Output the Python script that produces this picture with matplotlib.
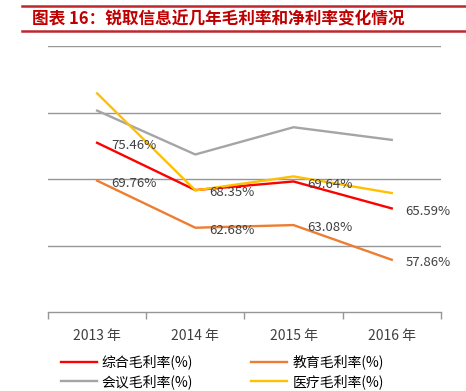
import matplotlib.pyplot as plt
from matplotlib.lines import Line2D

plt.rcParams['font.family'] = ['Noto Sans CJK SC', 'DejaVu Sans']

years = ['2013 年', '2014 年', '2015 年', '2016 年']
zonghe = [75.46, 68.35, 69.64, 65.59]
jiaoyu = [69.76, 62.68, 63.08, 57.86]
huiyi = [80.3, 73.7, 77.8, 75.9]
yiliao = [82.9, 68.3, 70.4, 67.9]

fig = plt.figure(figsize=(4.66, 3.91), dpi=100)
ax = fig.add_axes([0.103, 0.202, 0.843, 0.680])

x = range(len(years))
l1, = ax.plot(x, zonghe, color='#FF0000', lw=1.7, label='综合毛利率(%)')
l2, = ax.plot(x, jiaoyu, color='#ED7D31', lw=1.7, label='教育毛利率(%)')
l3, = ax.plot(x, huiyi, color='#A5A5A5', lw=1.7, label='会议毛利率(%)')
l4, = ax.plot(x, yiliao, color='#FFC000', lw=1.7, label='医疗毛利率(%)')

for series in (zonghe, jiaoyu):
    for i, v in enumerate(series):
        ax.annotate(f'{v:.2f}%', (i, v), xytext=(10, -2), textcoords='offset points',
                    ha='left', va='center', fontsize=9.5, color='#404040')

ax.set_xlim(-0.5, 3.5)
ax.set_ylim(50, 90)
for g in (60, 70, 80, 90):
    ax.axhline(g, color='#969696', lw=1.0, zorder=0)

for s in ('top', 'right', 'left'):
    ax.spines[s].set_visible(False)
ax.spines['bottom'].set_color('#969696')
ax.spines['bottom'].set_linewidth(1.0)
ax.set_yticks([])
ax.set_xticks([-0.5, 0.5, 1.5, 2.5, 3.5])
ax.set_xticklabels([])
ax.tick_params(axis='x', which='major', length=5, color='#969696', width=1.0)
ax.set_xticks(list(x), minor=True)
ax.set_xticklabels(years, minor=True, fontsize=10, color='#404040')
ax.tick_params(axis='x', which='minor', length=0, pad=12)

# legend fills column-wise, so order handles to read row-wise
fig.legend(handles=[l1, l3, l2, l4], loc='upper left', bbox_to_anchor=(0.13, 0.093),
           ncol=2, frameon=False, fontsize=10, handlelength=2.6, handletextpad=0.35,
           columnspacing=4.2, labelspacing=0.35, borderaxespad=0, borderpad=0)

fig.add_artist(Line2D([0.047, 1.0], [0.985, 0.985], color='#C0272D', lw=1.8))
fig.add_artist(Line2D([0.047, 1.0], [0.921, 0.921], color='#C0272D', lw=1.8))
fig.text(0.068, 0.950, '图表 16：锐取信息近几年毛利率和净利率变化情况', fontsize=12,
         fontweight='bold', fontstyle='italic', color='#C00000', va='center', ha='left')

fig.savefig('out.png', dpi=100)
